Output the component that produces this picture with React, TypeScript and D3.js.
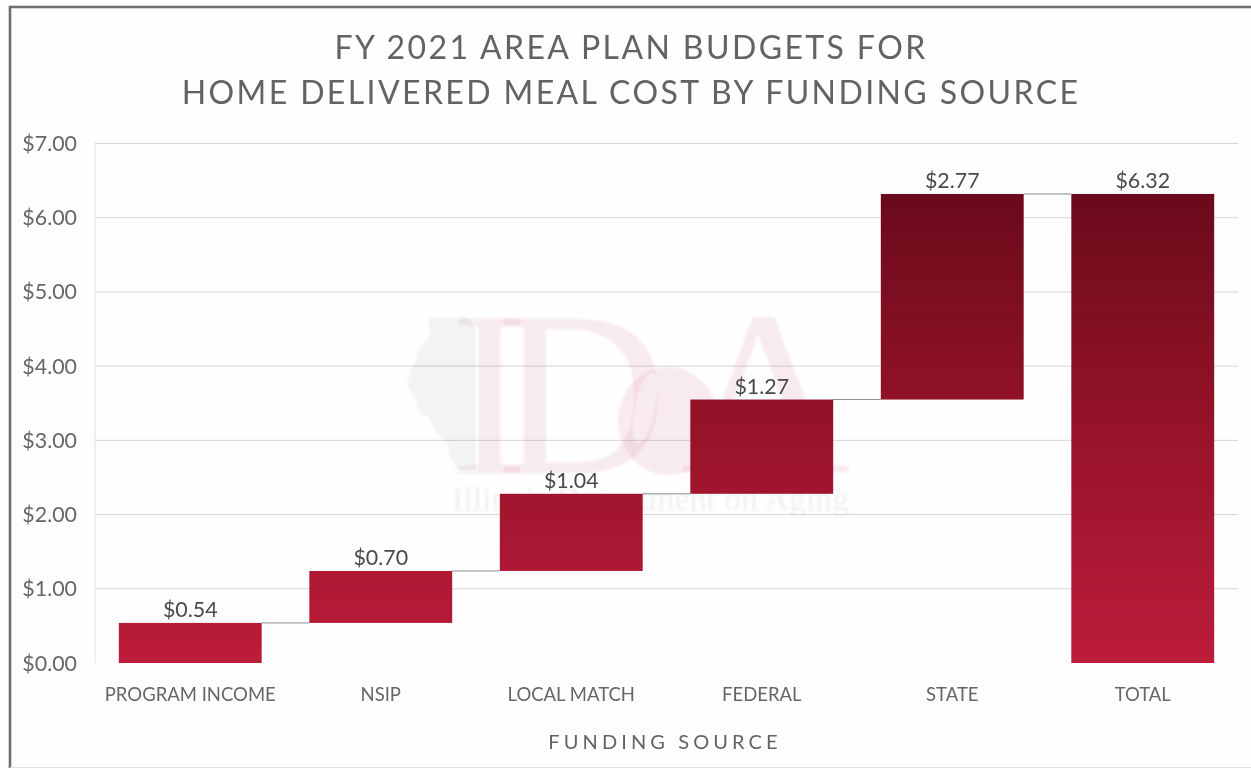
import React from "react";
import * as d3 from "d3";

const categories = ["PROGRAM INCOME", "NSIP", "LOCAL MATCH", "FEDERAL", "STATE", "TOTAL"];
const amounts = [0.54, 0.7, 1.04, 1.27, 2.77, 6.32];
const isTotal = [false, false, false, false, false, true];
const ticks = [0, 1, 2, 3, 4, 5, 6, 7];
const titleLines = ["FY 2021 AREA PLAN BUDGETS FOR", "HOME DELIVERED MEAL COST BY FUNDING SOURCE"];
const xTitle = "FUNDING SOURCE";

const W = 1251, H = 768;
const plot = { left: 95, right: 1238, top: 143.5, bottom: 663 };
const FONT = "Lato, Carlito, 'Open Sans', sans-serif";

export default function App() {
  const x = d3.scaleBand<string>().domain(categories).range([plot.left, plot.right]).paddingInner(0.25).paddingOuter(0.125);
  const y = d3.scaleLinear().domain([0, 7]).range([plot.bottom, plot.top]);
  const fmt = d3.format("$.2f");
  let running = 0;
  const bars = categories.map((c, i) => {
    const start = isTotal[i] ? 0 : running;
    const end = isTotal[i] ? amounts[i] : running + amounts[i];
    running = end;
    return { c, start, end, value: amounts[i] };
  });
  const top = y(6.32);
  return (
    <svg width={W} height={H} viewBox={`0 0 ${W} ${H}`} style={{ position: "absolute", left: 0, top: 0, display: "block", background: "#fefefe" }}>
      <defs>
        <linearGradient id="barGrad" gradientUnits="userSpaceOnUse" x1="0" x2="0" y1={top} y2={y(0)}>
          <stop offset="0" stopColor="#6a0a1b" />
          <stop offset="0.5" stopColor="#961329" />
          <stop offset="1" stopColor="#bc1c3a" />
        </linearGradient>
        <filter id="soft" x="-5%" y="-5%" width="110%" height="110%">
          <feGaussianBlur stdDeviation="0.5" />
        </filter>
        <filter id="softer" x="-5%" y="-5%" width="110%" height="110%">
          <feGaussianBlur stdDeviation="1" />
        </filter>
      </defs>

      {/* outer frame */}
      <path d="M10 768V7H1251" fill="none" stroke="#707070" strokeWidth={2.6} />
      <line x1={10} x2={1251} y1={767.5} y2={767.5} stroke="#dddddd" strokeWidth={1} />

      {/* gridlines and value axis */}
      {ticks.filter((t) => t > 0).map((t) => (
        <line key={t} x1={plot.left} x2={plot.right} y1={y(t)} y2={y(t)} stroke="#d6d6d6" strokeWidth={1} />
      ))}
      <line x1={plot.left} x2={plot.left} y1={plot.top} y2={plot.bottom} stroke="#e2e2e2" strokeWidth={1} />

      {/* watermark */}
      <g filter="url(#softer)" style={{ mixBlendMode: "multiply" }}>
        <path
          d="M428 318L470 318L476 330L476 470L458 470L450 458L448 446L436 432L428 416L420 414L414 398L407 384L410 370L416 360L420 346L430 336Z"
          fill="#f3f5f5"
        />
        <g fontFamily="'Liberation Serif', serif" fill="#b01e3a" fillOpacity={0.075}>
          <text x={450} y={473} fontSize={236}>I</text>
          <text x={497} y={473} fontSize={236}>D</text>
          <path
            fillRule="evenodd"
            d="M618 421a50 54 0 1 0 100 0a50 54 0 1 0 -100 0ZM635 408a10 30 12 1 0 20 0a10 30 12 1 0 -20 0Z"
          />
          <text x={680} y={473} fontSize={236}>A</text>
        </g>
        <text x={452} y={510} fontFamily="'Liberation Serif', serif" fontSize={33.8} fill="#c9b9ba" fillOpacity={0.22}>
          Illinois Department on Aging
        </text>
      </g>

      {/* connectors */}
      {bars.slice(0, -1).map((b, i) => (
        <line
          key={b.c}
          x1={x(b.c)! + x.bandwidth()}
          x2={x(bars[i + 1].c)!}
          y1={y(b.end)}
          y2={y(b.end)}
          stroke="#8c8c8c"
          strokeWidth={1}
        />
      ))}

      {/* bars */}
      {bars.map((b) => (
        <rect key={b.c} x={x(b.c)} width={x.bandwidth()} y={y(b.end)} height={y(b.start) - y(b.end)} fill="url(#barGrad)" />
      ))}

      <g filter="url(#soft)" fontFamily={FONT}>
        {/* title */}
        {titleLines.map((l, i) => (
          <text key={l} x={631} y={59 + i * 45} textAnchor="middle" fontSize={32} letterSpacing={2.4} fill="#636363">
            {l}
          </text>
        ))}

        {/* y tick labels */}
        {ticks.map((t) => (
          <text key={t} x={77} y={y(t) + 7.5} textAnchor="end" fontSize={21.4} fill="#666666">
            {fmt(t)}
          </text>
        ))}

        {/* value labels */}
        {bars.map((b) => (
          <text key={b.c} x={x(b.c)! + x.bandwidth() / 2} y={y(b.end) - 5.5} textAnchor="middle" fontSize={21.4} fill="#4a4a4a">
            {fmt(b.value)}
          </text>
        ))}

        {/* category labels */}
        {categories.map((c) => (
          <text key={c} x={x(c)! + x.bandwidth() / 2} y={701} textAnchor="middle" fontSize={18.5} fill="#666666">
            {c}
          </text>
        ))}

        {/* axis title */}
        <text x={665} y={749} textAnchor="middle" fontSize={20} letterSpacing={4.1} fill="#636363">
          {xTitle}
        </text>
      </g>
    </svg>
  );
}
